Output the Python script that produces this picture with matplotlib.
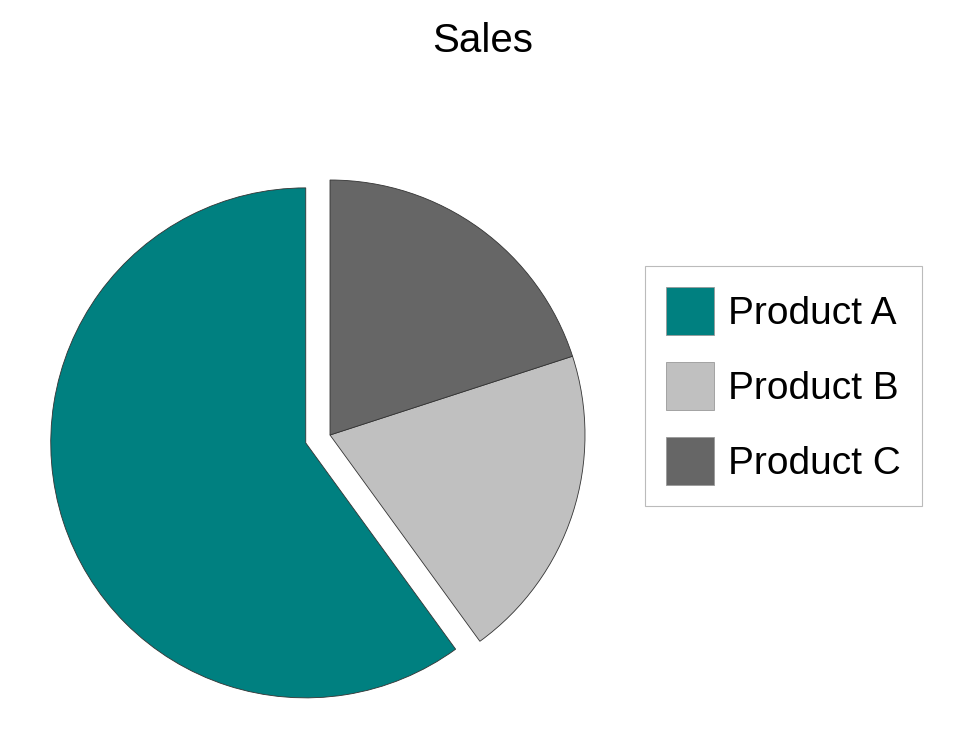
import matplotlib
matplotlib.use("Agg")
import matplotlib.pyplot as plt

# data
labels = ["Product A", "Product B", "Product C"]
values = [60, 20, 20]
colors = ["#008080", "#C0C0C0", "#666666"]
explode = [0.1, 0, 0]

plt.rcParams['font.family'] = ['Liberation Sans Narrow', 'Liberation Sans', 'DejaVu Sans']

W, H = 957, 753
fig = plt.figure(figsize=(W / 100, H / 100), dpi=100)

# pie axes: centre at (330, 435) px, radius 255 px
R = 255
cx, cy = 330, 435
lim = 1.2
side = 2 * lim * R
ax = fig.add_axes([(cx - side / 2) / W, (H - cy - side / 2) / H, side / W, side / H])
wedges, _ = ax.pie(values, colors=colors, explode=explode, startangle=90,
                   wedgeprops=dict(edgecolor="#333333", linewidth=0.6))
ax.set_xlim(-lim, lim)
ax.set_ylim(-lim, lim)
ax.set_aspect("equal")
ax.axis("off")

fig.text(483 / W, 1 - 41 / H, "Sales", ha="center", va="center", fontsize=29)

leg = fig.legend(wedges, labels, loc="upper left",
                 bbox_to_anchor=(645 / W, 1 - 266 / H),
                 fontsize=28, frameon=True, fancybox=False, framealpha=1,
                 edgecolor="#BBBBBB", handlelength=1.23, handleheight=1.52,
                 handletextpad=0.35, labelspacing=0.69, borderpad=0.55,
                 borderaxespad=0)
leg.get_frame().set_linewidth(0.8)
for h in leg.legend_handles:
    h.set_edgecolor("#999999")
    h.set_linewidth(0.6)

fig.savefig("out.png", dpi=100)
